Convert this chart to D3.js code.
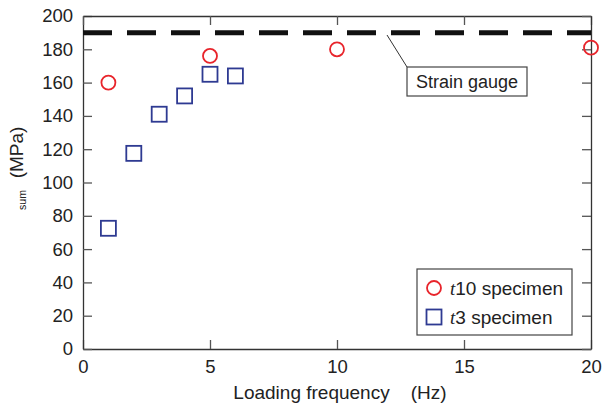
<!DOCTYPE html>
<html>
<head>
<meta charset="utf-8">
<script src="https://cdn.jsdelivr.net/npm/d3@7"></script>
<style>
  body { margin: 0; background: #fff; }
  text { font-family: "Liberation Sans", Arial, sans-serif; fill: #222; }
</style>
</head>
<body>
<script>
// t10 specimen (circles)
const t10Freq = [1, 5, 10, 20];
const t10Stress = [160, 176, 180, 181];
// t3 specimen (squares)
const t3Freq = [1, 2, 3, 4, 5, 6];
const t3Stress = [72.5, 117.5, 141, 152, 165, 164];
// strain gauge reference
const gaugeStress = 190;

const xTicks = [0, 5, 10, 15, 20];
const yTicks = [0, 20, 40, 60, 80, 100, 120, 140, 160, 180, 200];

const width = 602, height = 403;
const plotL = 83, plotR = 591, plotT = 16, plotB = 349;

const x = d3.scaleLinear().domain([0, 20]).range([plotL, plotR]);
const y = d3.scaleLinear().domain([0, 200]).range([plotB, plotT]);

const svg = d3.select("body").append("svg")
    .attr("width", width)
    .attr("height", height);

// axes with inward ticks
const tickLen = 9;
const fs = 18.5;
svg.append("g")
    .attr("transform", "translate(0," + plotB + ")")
    .call(d3.axisBottom(x).tickValues(xTicks).tickSizeInner(-tickLen).tickSizeOuter(0).tickPadding(11))
    .call(g => g.selectAll("text").attr("font-size", fs).attr("dy", "0.71em"));
svg.append("g")
    .attr("transform", "translate(" + plotL + ",0)")
    .call(d3.axisLeft(y).tickValues(yTicks).tickSizeInner(-tickLen).tickSizeOuter(0).tickPadding(10))
    .call(g => g.selectAll("text").attr("font-size", fs));
svg.append("g")
    .attr("transform", "translate(0," + plotT + ")")
    .call(d3.axisTop(x).tickValues(xTicks).tickSizeInner(-tickLen).tickSizeOuter(0).tickFormat(""));
svg.append("g")
    .attr("transform", "translate(" + plotR + ",0)")
    .call(d3.axisRight(y).tickValues(yTicks).tickSizeInner(-tickLen).tickSizeOuter(0).tickFormat(""));

svg.selectAll(".domain").attr("stroke", "#333").attr("stroke-width", 1.3);
svg.selectAll(".tick line").attr("stroke", "#555").attr("stroke-width", 1.3);

// strain gauge dashed line
svg.append("line")
    .attr("x1", x(0)).attr("x2", x(20))
    .attr("y1", y(gaugeStress)).attr("y2", y(gaugeStress))
    .attr("stroke", "#111")
    .attr("stroke-width", 5)
    .attr("stroke-dasharray", "29,15");

// callout
svg.append("line")
    .attr("x1", 387).attr("y1", 35)
    .attr("x2", 407).attr("y2", 67)
    .attr("stroke", "#333").attr("stroke-width", 1);
svg.append("rect")
    .attr("x", 407).attr("y", 67)
    .attr("width", 120).attr("height", 29)
    .attr("fill", "#fff").attr("stroke", "#444").attr("stroke-width", 1.2);
svg.append("text")
    .attr("x", 467).attr("y", 88)
    .attr("text-anchor", "middle")
    .attr("font-size", 18)
    .text("Strain gauge");

// markers
const red = "#e8242b", blue = "#2e3a92";
svg.selectAll("circle.t10")
    .data(t10Freq.map((f, i) => [f, t10Stress[i]]))
    .enter().append("circle")
    .attr("class", "t10")
    .attr("cx", d => x(d[0])).attr("cy", d => y(d[1]))
    .attr("r", 7)
    .attr("fill", "none").attr("stroke", red).attr("stroke-width", 1.8);

const sq = 15;
svg.selectAll("rect.t3")
    .data(t3Freq.map((f, i) => [f, t3Stress[i]]))
    .enter().append("rect")
    .attr("class", "t3")
    .attr("x", d => x(d[0]) - sq / 2).attr("y", d => y(d[1]) - sq / 2)
    .attr("width", sq).attr("height", sq)
    .attr("fill", "none").attr("stroke", blue).attr("stroke-width", 1.8);

// legend
const lg = svg.append("g").attr("transform", "translate(417,269)");
lg.append("rect")
    .attr("width", 155).attr("height", 66)
    .attr("fill", "#fff").attr("stroke", "#444").attr("stroke-width", 1.2);
lg.append("circle").attr("cx", 17).attr("cy", 19).attr("r", 7)
    .attr("fill", "none").attr("stroke", red).attr("stroke-width", 1.8);
lg.append("rect").attr("x", 17 - 7.5).attr("y", 48 - 7.5).attr("width", 15).attr("height", 15)
    .attr("fill", "none").attr("stroke", blue).attr("stroke-width", 1.8);
const legRows = [["10 specimen", 26], ["3 specimen", 55]];
legRows.forEach(r => {
    const t = lg.append("text").attr("x", 33).attr("y", r[1]).attr("font-size", 19);
    t.append("tspan").attr("font-family", "Liberation Serif, serif").attr("font-style", "italic").text("t");
    t.append("tspan").text(r[0]);
});

// axis titles
svg.append("text")
    .attr("x", 340).attr("y", 399)
    .attr("text-anchor", "middle")
    .attr("font-size", 19)
    .attr("xml:space", "preserve")
    .text("Loading frequency    (Hz)");

svg.append("text")
    .attr("transform", "translate(26,200) rotate(-90)")
    .attr("text-anchor", "middle")
    .attr("font-size", 10.6)
    .text("sum");
svg.append("text")
    .attr("transform", "translate(23,152.5) rotate(-90)")
    .attr("text-anchor", "middle")
    .attr("font-size", 19)
    .text("(MPa)");
</script>
</body>
</html>
